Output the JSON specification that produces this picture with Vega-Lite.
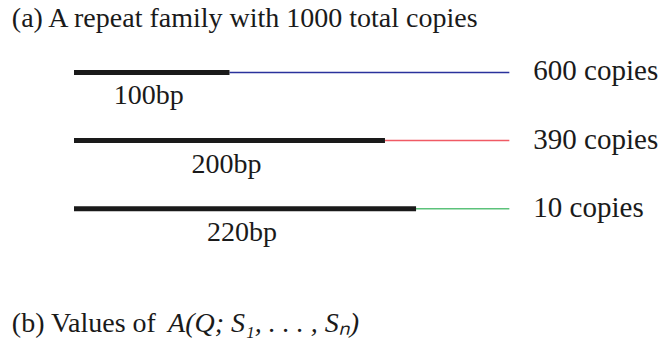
{
  "$schema": "https://vega.github.io/schema/vega-lite/v6.json",
  "width": 667,
  "height": 347,
  "autosize": {"type": "none"},
  "padding": 0,
  "background": "white",
  "config": {"view": {"stroke": null}, "text": {"font": "Liberation Serif", "fill": "#1a1a1a"}},
  "datasets": {
    "repeats": [
      {"row": 1, "start": 0, "length": 100, "total": 280, "bp": "100bp", "copies": "600 copies", "family": "A"},
      {"row": 2, "start": 0, "length": 200, "total": 280, "bp": "200bp", "copies": "390 copies", "family": "B"},
      {"row": 3, "start": 0, "length": 220, "total": 280, "bp": "220bp", "copies": "10 copies", "family": "C"}
    ],
    "roman": [
      {"text": "(a) A repeat family with 1000 total copies", "x": -40, "row": 0.33},
      {"text": "(b) Values of", "x": -40, "row": 4.81}
    ],
    "italic": [
      {"text": "A(Q; S₁, . . . , Sₙ)", "x": 60.5, "row": 4.81}
    ]
  },
  "layer": [
    {
      "data": {"name": "repeats"},
      "mark": {"type": "rule", "strokeWidth": 1.5},
      "encoding": {
        "x": {"field": "length", "type": "quantitative", "scale": {"domain": [-47.6, 381.4], "nice": false, "zero": false}, "axis": null},
        "x2": {"field": "total"},
        "y": {"field": "row", "type": "quantitative", "scale": {"domain": [-0.0646, 5.031], "range": [0, 347], "nice": false, "zero": false}, "axis": null},
        "color": {"field": "family", "type": "nominal", "scale": {"domain": ["A", "B", "C"], "range": ["#2a329c", "#f05a64", "#5cc27a"]}, "legend": null}
      }
    },
    {
      "data": {"name": "repeats"},
      "mark": {"type": "rule", "strokeWidth": 5, "color": "#1a1a1a", "strokeCap": "butt"},
      "encoding": {
        "x": {"field": "start", "type": "quantitative"},
        "x2": {"field": "length"},
        "y": {"field": "row", "type": "quantitative"}
      }
    },
    {
      "data": {"name": "repeats"},
      "transform": [{"calculate": "datum.length / 2", "as": "mid"}],
      "mark": {"type": "text", "fontSize": 28, "align": "center", "baseline": "alphabetic", "dy": 32, "dx": -3},
      "encoding": {
        "x": {"field": "mid", "type": "quantitative"},
        "y": {"field": "row", "type": "quantitative"},
        "text": {"field": "bp"}
      }
    },
    {
      "data": {"name": "repeats"},
      "mark": {"type": "text", "fontSize": 29, "align": "left", "baseline": "alphabetic", "dy": 8, "dx": 24},
      "encoding": {
        "x": {"field": "total", "type": "quantitative"},
        "y": {"field": "row", "type": "quantitative"},
        "text": {"field": "copies"}
      }
    },
    {
      "data": {"name": "roman"},
      "mark": {"type": "text", "fontSize": 28, "align": "left", "baseline": "alphabetic"},
      "encoding": {
        "x": {"field": "x", "type": "quantitative"},
        "y": {"field": "row", "type": "quantitative"},
        "text": {"field": "text"}
      }
    },
    {
      "data": {"name": "italic"},
      "mark": {"type": "text", "fontSize": 28, "fontStyle": "italic", "align": "left", "baseline": "alphabetic"},
      "encoding": {
        "x": {"field": "x", "type": "quantitative"},
        "y": {"field": "row", "type": "quantitative"},
        "text": {"field": "text"}
      }
    }
  ]
}
